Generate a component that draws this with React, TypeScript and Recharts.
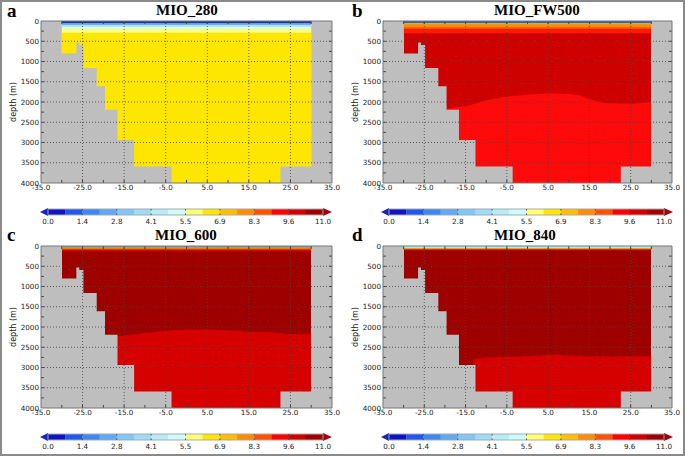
import React from "react";
import { ComposedChart, Area, XAxis, YAxis, ReferenceLine } from "recharts";

// bathymetry shared by all runs (x = latitude, depth in m of the sea floor)
const BATHY_X = [-35, -30, -26.5, -25.8, -24.8, -21.6, -19.6, -16.6, -12.6, -3.6, 22.6, 30, 35];
const BATHY_DEPTH = [0, 800, 530, 590, 1160, 1610, 2190, 2940, 3590, 4000, 3590, 0, 0];
const OCEAN_X = [-30, 30];
const MAX_DEPTH = 4000;

const X_TICKS = [-35, -25, -15, -5, 5, 15, 25, 35];
const DEPTH_TICKS = [0, 500, 1000, 1500, 2000, 2500, 3000, 3500, 4000];
const X_GRID = [-25, -15, -5, 5, 15, 25];
const DEPTH_GRID = [500, 1000, 1500, 2000, 2500, 3000, 3500];
const MINOR_DEPTH = [250, 500, 750, 1000, 1250, 1500, 1750, 2000, 2250, 2500, 2750, 3000, 3250, 3500, 3750];
const MINOR_X = [-30, -25, -20, -15, -10, -5, 0, 5, 10, 15, 20, 25, 30];

const CBAR_LABELS = ["0.0", "1.4", "2.8", "4.1", "5.5", "6.9", "8.3", "9.6", "11.0"];
const CBAR_COLORS = [
  "#0c14c8", "#1f57f0", "#3b88f2", "#5ea8f5", "#80c6f8", "#9cdcf8", "#b4eefa", "#cdfcfc",
  "#ffff70", "#ffe600", "#ffbe00", "#ff8c00", "#ff5000", "#ff0000", "#d20000", "#a00000",
];

// surface layer depths (band edges)
const M280_SURF = [0, 60, 100, 145, 200, 290];
const FW500_SURF = [0, 55, 85, 120, 165, 205, 300];
const M600_SURF = [0, 40, 62, 85, 110, 150];
const M840_SURF = [0, 50, 68, 88, 108];

// deep water mass upper boundary
const FW500_BX = [-19.6, -15, -10, -5, 0, 5, 10, 13, 16, 20, 25, 30];
const FW500_BD = [2160, 2100, 1960, 1870, 1820, 1790, 1800, 1850, 1960, 2030, 2040, 2000];
const M600_BX = [-19.6, -16.6, -10, -5, 0, 5, 10, 15, 20, 25, 30];
const M600_BD = [2240, 2230, 2150, 2090, 2060, 2060, 2080, 2120, 2130, 2180, 2180];
const M840_BX = [-13.1, -10, -5, 0, 5, 7, 10, 15, 20, 25, 30];
const M840_BD = [2800, 2750, 2740, 2720, 2690, 2680, 2710, 2720, 2730, 2720, 2720];

const GRAY = "#bebebe";
const TICK_FONT = { fontSize: 7.2, fontFamily: "DejaVu Sans", fill: "#222" };

type PanelProps = {
  left: number;
  top: number;
  yw: number;
  surf: number[];
  surfColors: string[];
  bulk: string;
  bx?: number[];
  bd?: number[];
  deep?: string;
};

function Panel({ left, top, yw, surf, surfColors, bulk, bx, bd, deep }: PanelProps) {
  const bathy = BATHY_X.map((x, i) => ({ x, v: [BATHY_DEPTH[i], MAX_DEPTH] }));
  const ocean = OCEAN_X.map((x) => ({ x, v: [0, MAX_DEPTH] }));
  const deepRows = bx && bd ? bx.map((x, i) => ({ x, v: [bd[i], MAX_DEPTH] })) : null;
  const bands = surfColors.map((c, k) => ({
    color: c,
    rows: OCEAN_X.map((x) => ({ x, v: [surf[k], surf[k + 1]] })),
  }));

  return (
    <div style={{ position: "absolute", left, top }}>
      <ComposedChart width={340} height={200} margin={{ top: 21, right: 8, bottom: 3, left: 0 }}>
        <XAxis
          type="number"
          dataKey="x"
          domain={[-35, 35]}
          ticks={X_TICKS}
          allowDataOverflow
          tickFormatter={(v: number) => v.toFixed(1)}
          tick={TICK_FONT}
          tickLine={false}
          tickSize={0}
          tickMargin={2}
          axisLine={false}
          height={14}
          interval={0}
        />
        <YAxis
          type="number"
          reversed
          domain={[0, MAX_DEPTH]}
          ticks={DEPTH_TICKS}
          allowDataOverflow
          tick={TICK_FONT}
          tickLine={false}
          tickSize={0}
          tickMargin={2}
          axisLine={false}
          width={yw}
          interval={0}
        />
        <Area data={ocean} dataKey="v" type="linear" fill={bulk} fillOpacity={1} stroke="none" dot={false} activeDot={false} isAnimationActive={false} />
        {deepRows && (
          <Area data={deepRows} dataKey="v" type="monotone" fill={deep} fillOpacity={1} stroke="none" dot={false} activeDot={false} isAnimationActive={false} />
        )}
        {bands.map((b, k) => (
          <Area key={k} data={b.rows} dataKey="v" type="linear" fill={b.color} fillOpacity={1} stroke="none" dot={false} activeDot={false} isAnimationActive={false} />
        ))}
        <Area data={bathy} dataKey="v" type="stepAfter" fill={GRAY} fillOpacity={1} stroke="none" dot={false} activeDot={false} isAnimationActive={false} />
        {X_GRID.map((x) => (
          <ReferenceLine key={"gx" + x} x={x} stroke="#444" strokeDasharray="1 2" strokeWidth={0.8} />
        ))}
        {DEPTH_GRID.map((d) => (
          <ReferenceLine key={"gy" + d} y={d} stroke="#444" strokeDasharray="1 2" strokeWidth={0.8} />
        ))}
        {MINOR_DEPTH.map((d) => (
          <ReferenceLine key={"ml" + d} segment={[{ x: -35, y: d }, { x: -34.3, y: d }]} stroke="#444" />
        ))}
        {MINOR_DEPTH.map((d) => (
          <ReferenceLine key={"mr" + d} segment={[{ x: 35, y: d }, { x: 34.3, y: d }]} stroke="#444" />
        ))}
        {MINOR_X.map((x) => (
          <ReferenceLine key={"mt" + x} segment={[{ x, y: 0 }, { x, y: 75 }]} stroke="#444" />
        ))}
        {MINOR_X.map((x) => (
          <ReferenceLine key={"mb" + x} segment={[{ x, y: MAX_DEPTH }, { x, y: MAX_DEPTH - 75 }]} stroke="#444" />
        ))}
        <ReferenceLine x={-35} stroke="#777" />
        <ReferenceLine x={35} stroke="#777" />
        <ReferenceLine y={0} stroke="#777" />
        <ReferenceLine y={MAX_DEPTH} stroke="#777" />
      </ComposedChart>
    </div>
  );
}

function ColorBar({ x0, y0 }: { x0: number; y0: number }) {
  const w = 275;
  const h = 6;
  const seg = w / CBAR_COLORS.length;
  return (
    <g>
      <polygon points={`${x0 - 8},${y0 + h / 2} ${x0},${y0 - 1} ${x0},${y0 + h + 1}`} fill="#1a22c0" />
      <polygon points={`${x0 + w + 9},${y0 + h / 2} ${x0 + w},${y0 - 1} ${x0 + w},${y0 + h + 1}`} fill="#a00010" />
      {CBAR_COLORS.map((c, i) => (
        <rect key={i} x={x0 + i * seg} y={y0} width={seg + 0.3} height={h} fill={c} />
      ))}
      <rect x={x0} y={y0} width={w} height={h} fill="none" stroke="#aaa" strokeWidth={1} />
      {CBAR_LABELS.map((t, i) => (
        <g key={t}>
          <line x1={x0 + (i * w) / 8} x2={x0 + (i * w) / 8} y1={y0} y2={y0 + 1.5} stroke="#555" />
          <line x1={x0 + (i * w) / 8} x2={x0 + (i * w) / 8} y1={y0 + h - 1.5} y2={y0 + h} stroke="#555" />
          <text x={x0 + (i * w) / 8} y={y0 + 15} textAnchor="middle" fontSize={7.2} fontFamily="DejaVu Sans" fill="#222">
            {t}
          </text>
        </g>
      ))}
    </g>
  );
}

const serif = "Liberation Serif, Times New Roman, serif";

export default function App() {
  return (
    <div
      style={{
        position: "absolute",
        left: 0,
        top: 0,
        width: 685,
        height: 456,
        background: "#fff",
        boxSizing: "border-box",
        border: "2px solid #8a8a8a",
        overflow: "hidden",
      }}
    >
      <div style={{ position: "absolute", left: -2, top: -2 }}>
        <Panel left={0} top={0} yw={41} surf={M280_SURF}
          surfColors={["#1a30c8", "#6ab4f4", "#a8e4f8", "#d4fcfc", "#fffe78"]} bulk="#ffe600" />
        <Panel left={340} top={0} yw={43} surf={FW500_SURF}
          surfColors={["#2a60e8", "#ffe600", "#ffbe00", "#ff8c00", "#ff5000", "#ff1a00"]}
          bulk="#cf0000" bx={FW500_BX} bd={FW500_BD} deep="#ff0a0a" />
        <Panel left={0} top={225} yw={41} surf={M600_SURF}
          surfColors={["#5aa0f0", "#ffe600", "#ff8c00", "#ff2000", "#b80000"]}
          bulk="#9e0000" bx={M600_BX} bd={M600_BD} deep="#d60000" />
        <Panel left={340} top={225} yw={43} surf={M840_SURF}
          surfColors={["#a8eef0", "#ffe600", "#ff8c00", "#e01000"]}
          bulk="#9e0000" bx={M840_BX} bd={M840_BD} deep="#d60000" />
        <svg width={685} height={456} style={{ position: "absolute", left: 0, top: 0, pointerEvents: "none" }}>
          <text x={7} y={17} fontSize={19} fontWeight="bold" fontFamily={serif} fill="#000">a</text>
          <text x={352} y={17} fontSize={19} fontWeight="bold" fontFamily={serif} fill="#000">b</text>
          <text x={7} y={241} fontSize={19} fontWeight="bold" fontFamily={serif} fill="#000">c</text>
          <text x={352} y={241} fontSize={19} fontWeight="bold" fontFamily={serif} fill="#000">d</text>
          <text x={156} y={15} fontSize={15} fontWeight="bold" fontFamily={serif} fill="#000">MIO_280</text>
          <text x={494} y={15} fontSize={15} fontWeight="bold" fontFamily={serif} fill="#000">MIO_FW500</text>
          <text x={155} y={240} fontSize={15} fontWeight="bold" fontFamily={serif} fill="#000">MIO_600</text>
          <text x={494} y={240} fontSize={15} fontWeight="bold" fontFamily={serif} fill="#000">MIO_840</text>
          {[
            [16, 102],
            [358, 102],
            [16, 327],
            [358, 327],
          ].map(([x, y], i) => (
            <text key={i} x={x} y={y} transform={`rotate(-90 ${x} ${y})`} textAnchor="middle" fontSize={8} fontFamily="DejaVu Sans" fill="#222">
              depth (m)
            </text>
          ))}
          <ColorBar x0={48} y0={209} />
          <ColorBar x0={389} y0={209} />
          <ColorBar x0={48} y0={434} />
          <ColorBar x0={389} y0={434} />
        </svg>
      </div>
    </div>
  );
}
